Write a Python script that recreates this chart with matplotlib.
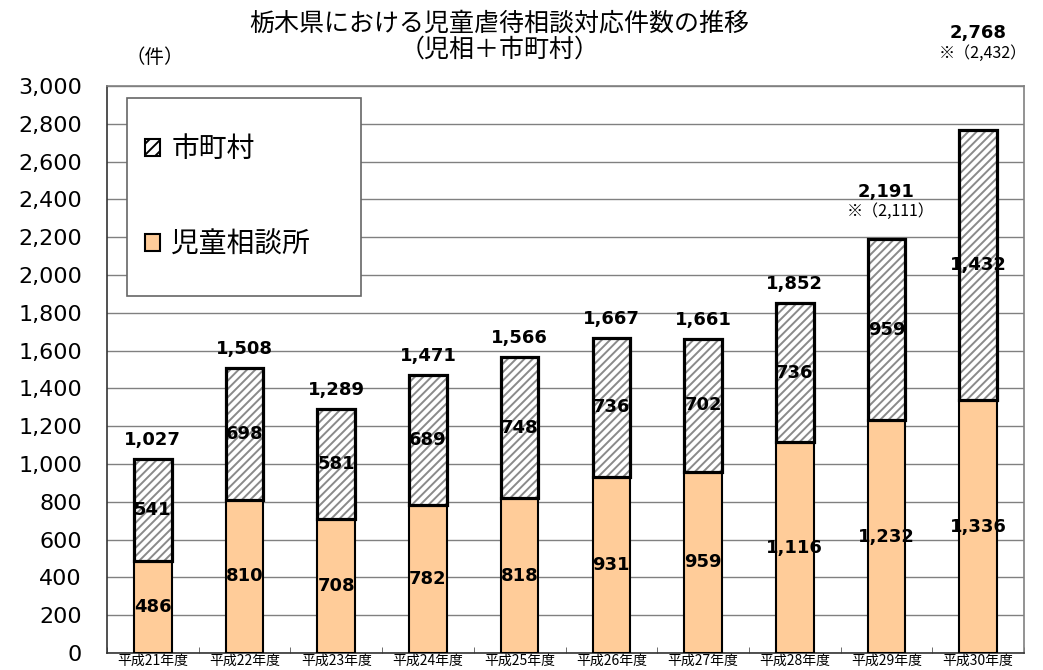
import matplotlib
matplotlib.use("Agg")
import matplotlib.pyplot as plt
from matplotlib.patches import Patch, Rectangle
import numpy as np

plt.rcParams['font.family'] = ['Noto Sans CJK JP', 'DejaVu Sans']
plt.rcParams['hatch.linewidth'] = 1.4

categories = ['平成21年度', '平成22年度', '平成23年度', '平成24年度', '平成25年度',
              '平成26年度', '平成27年度', '平成28年度', '平成29年度', '平成30年度']
jisou = [486, 810, 708, 782, 818, 931, 959, 1116, 1232, 1336]
shichoson = [541, 698, 581, 689, 748, 736, 702, 736, 959, 1432]
totals = [1027, 1508, 1289, 1471, 1566, 1667, 1661, 1852, 2191, 2768]
notes = {8: '※（2,111）', 9: '※（2,432）'}
yticks = list(range(0, 3001, 200))

W, H = 1043, 670
fig = plt.figure(figsize=(W / 100, H / 100), dpi=100)
ax = fig.add_axes([0.1026, 0.0254, 0.8792, 0.8462])

x = np.arange(len(categories))
w = 0.41
ax.bar(x, jisou, w, color='#FFCC99', edgecolor='black', linewidth=1.5, zorder=3)
ax.bar(x, shichoson, w, bottom=jisou, color='white', edgecolor='#8a8a8a',
       hatch='////', linewidth=0, zorder=3)
ax.bar(x, shichoson, w, bottom=jisou, fill=False, edgecolor='black',
       linewidth=2.3, zorder=4)

lab_font = dict(fontsize=13, fontweight='bold', family=['DejaVu Sans'])
for i in range(len(categories)):
    ax.text(x[i], jisou[i] / 2, f'{jisou[i]:,}', ha='center', va='center', zorder=5, **lab_font)
    ax.text(x[i], jisou[i] + shichoson[i] / 2, f'{shichoson[i]:,}', ha='center', va='center',
            zorder=5, **lab_font)
    if i in notes:
        off = 250 if i == 8 else 510
        ax.text(x[i], totals[i] + off, f'{totals[i]:,}', ha='center', va='center',
                clip_on=False, zorder=5, **lab_font)
        ax.text(x[i] + 0.05, totals[i] + off - 105, notes[i], ha='center', va='center',
                fontsize=11.5, clip_on=False, zorder=5)
    else:
        ax.text(x[i], totals[i] + 100, f'{totals[i]:,}', ha='center', va='center',
                zorder=5, **lab_font)

ax.set_xlim(-0.5, len(categories) - 0.5)
ax.set_ylim(0, 3000)
ax.set_yticks(yticks)
ax.set_yticklabels([f'{v:,}' for v in yticks], fontsize=16, family=['DejaVu Sans'])
ax.set_xticks(x)
ax.set_xticklabels(categories, fontsize=10)
ax.set_xticks(np.arange(-0.5, len(categories), 1), minor=True)
ax.tick_params(axis='x', which='major', length=0, pad=0.5)
ax.tick_params(axis='x', which='minor', length=4, direction='in', color='#555555')
ax.tick_params(axis='y', length=0, pad=18)
ax.yaxis.grid(True, color='#808080', linewidth=1.0, zorder=0)
ax.set_axisbelow(True)
for s in ['top', 'right']:
    ax.spines[s].set_color('#808080')
    ax.spines[s].set_linewidth(1.2)
for s in ['left', 'bottom']:
    ax.spines[s].set_color('#333333')
    ax.spines[s].set_linewidth(1.2)

# legend box
box = Rectangle((127 / W, 1 - 296 / H), (361 - 127) / W, (296 - 98) / H,
                transform=fig.transFigure, facecolor='white', edgecolor='#666666',
                linewidth=1.2, zorder=9, clip_on=False)
ax.add_patch(box)
h_city = Patch(facecolor='white', edgecolor='black', hatch='///', linewidth=1.5)
h_jisou = Patch(facecolor='#FFCC99', edgecolor='black', linewidth=1.5)
leg = ax.legend(handles=[h_city, h_jisou], labels=['市町村', '児童相談所'],
                loc='upper left', bbox_to_anchor=(145 / W, 1 - 134 / H),
                bbox_transform=fig.transFigure, fontsize=20, frameon=False,
                handlelength=0.55, handleheight=0.55, handletextpad=0.4,
                labelspacing=2.35, borderpad=0, borderaxespad=0)
leg.set_zorder(10)

fig.text(0.479, 0.965, '栃木県における児童虐待相談対応件数の推移', ha='center', va='center', fontsize=18)
fig.text(0.479, 0.926, '（児相＋市町村）', ha='center', va='center', fontsize=18)
fig.text(0.148, 0.914, '（件）', ha='center', va='center', fontsize=14)

fig.savefig('out.png', dpi=100)
